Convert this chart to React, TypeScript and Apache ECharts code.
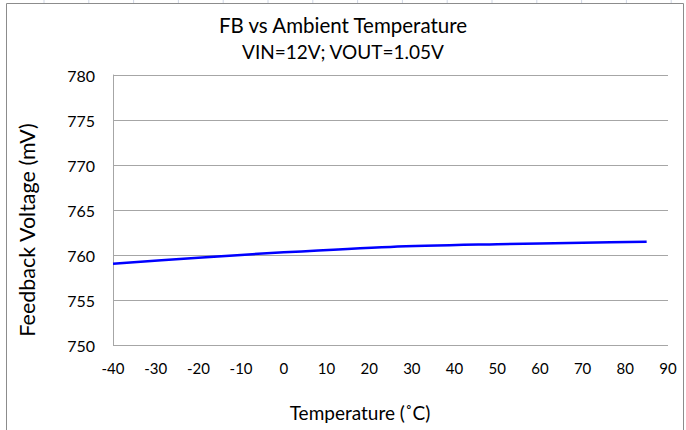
import React, { useEffect, useRef } from "react";
import * as echarts from "echarts";

const titleText = "FB vs Ambient Temperature";
const subtitleText = "VIN=12V; VOUT=1.05V";
const xAxisName = "Temperature (˚C)";
const yAxisName = "Feedback Voltage (mV)";

const temperatures = [-40, -20, 0, 25, 50, 70, 85];
const feedbackMv = [759.03, 759.7, 760.3, 760.9, 761.2, 761.37, 761.48];

const xMin = -40;
const xMax = 90;
const xStep = 10;
const yMin = 750;
const yMax = 780;
const yStep = 5;

const FONT = "Lato";

export default function App() {
  const ref = useRef<HTMLDivElement>(null);
  useEffect(() => {
    document.body.style.margin = "0";
    if (!ref.current) return;
    const chart = echarts.init(ref.current, undefined, { renderer: "svg" });
    const topLines: any[] = [];
    for (let i = 0; i < 16; i++) {
      const x = 44 + i * 44.8;
      topLines.push({
        type: "line",
        shape: { x1: x, y1: 0, x2: x, y2: 3 },
        style: { stroke: "#d0d7e5", lineWidth: 1 },
        silent: true,
      });
    }
    chart.setOption({
      animation: false,
      backgroundColor: "#ffffff",
      title: [
        {
          text: titleText,
          left: "center",
          top: 9,
          textStyle: { fontFamily: FONT, fontSize: 20.5, fontWeight: "normal", color: "#000" },
        },
        {
          text: subtitleText,
          left: "center",
          top: 37,
          textStyle: { fontFamily: FONT, fontSize: 19, fontWeight: "normal", color: "#000" },
        },
      ],
      graphic: [
        ...topLines,
        {
          type: "rect",
          shape: { x: 6.5, y: 3.5, width: 677, height: 440 },
          style: { fill: "none", stroke: "#8c8c8c", lineWidth: 1 },
          silent: true,
        },
        {
          type: "text",
          x: 27,
          y: 230,
          rotation: Math.PI / 2,
          style: {
            text: yAxisName,
            fontFamily: FONT,
            fontSize: 21.5,
            fill: "#000",
            align: "center",
            verticalAlign: "middle",
          },
          silent: true,
        },
        {
          type: "text",
          x: 360,
          y: 412,
          style: {
            text: xAxisName,
            fontFamily: FONT,
            fontSize: 19,
            fill: "#000",
            align: "center",
            verticalAlign: "middle",
          },
          silent: true,
        },
      ],
      grid: { left: 113, right: 18, top: 75, bottom: 85 },
      xAxis: {
        type: "value",
        min: xMin,
        max: xMax,
        interval: xStep,
        axisLine: { show: false },
        axisTick: { show: false },
        splitLine: { show: false },
        axisLabel: { fontFamily: FONT, fontSize: 15, color: "#000", margin: 15 },
      },
      yAxis: {
        type: "value",
        min: yMin,
        max: yMax,
        interval: yStep,
        axisLine: { show: true, onZero: false, lineStyle: { color: "#a6a6a6", width: 1 } },
        axisTick: { show: false },
        splitLine: { show: true, lineStyle: { color: "#a6a6a6", width: 1 } },
        axisLabel: { fontFamily: FONT, fontSize: 16, color: "#000", margin: 18 },
      },
      series: [
        {
          type: "line",
          data: temperatures.map((t, i) => [t, feedbackMv[i]]),
          smooth: 0.3,
          showSymbol: false,
          lineStyle: { color: "#0000ff", width: 2.5 },
        },
      ],
    });
    return () => chart.dispose();
  }, []);
  return <div ref={ref} style={{ width: 686, height: 430 }} />;
}
